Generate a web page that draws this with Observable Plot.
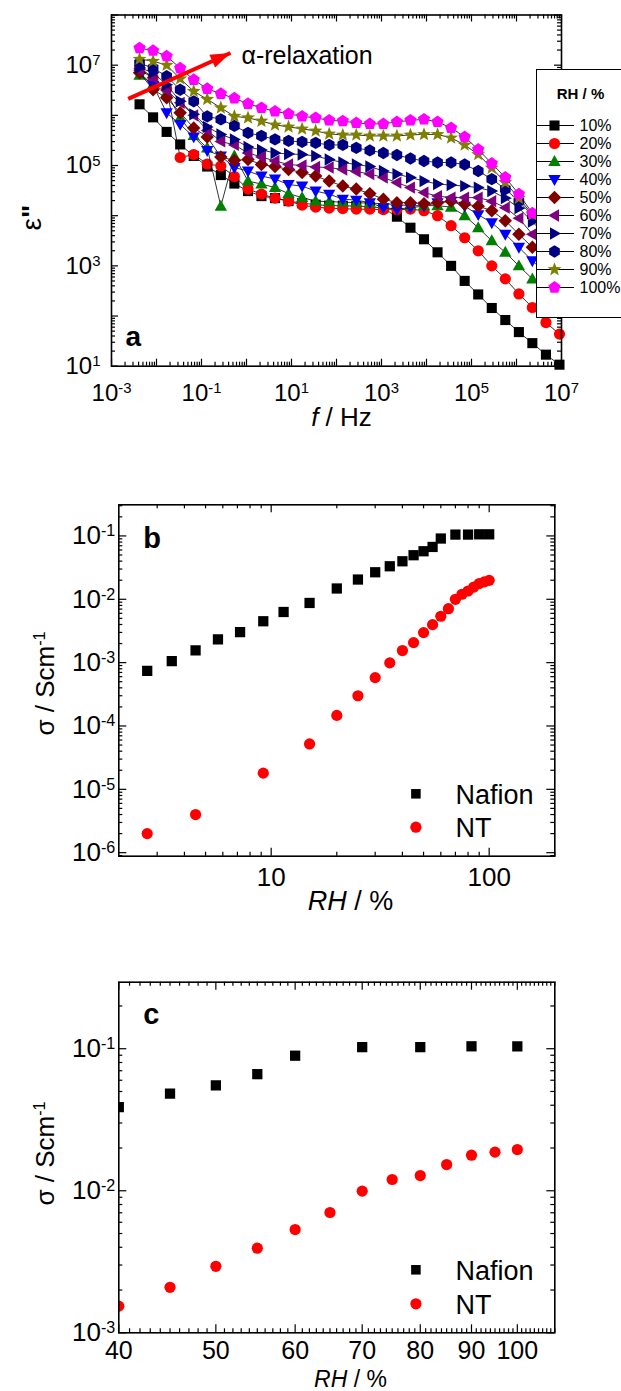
<!DOCTYPE html>
<html><head><meta charset="utf-8">
<script src="https://cdn.jsdelivr.net/npm/d3@7"></script>
<script src="https://cdn.jsdelivr.net/npm/@observablehq/plot@0.6"></script>
<style>
html,body{margin:0;padding:0;background:#fff;}
body{width:621px;height:1391px;overflow:hidden;position:relative;font-family:"Liberation Sans",Arial,sans-serif;}
.panel{position:absolute;left:0;}
svg{max-width:none !important;}
#leg{position:absolute;left:536px;top:69px;width:110px;height:247px;border:1.5px solid #000;background:#fff;overflow:hidden;}
</style></head><body>
<div id="a" class="panel" style="top:0px"></div>
<div id="leg"></div>
<div id="b" class="panel" style="top:470px"></div>
<div id="c" class="panel" style="top:950px"></div>
<script>
// ---------------- DATA ----------------
// Panel a: frequency grid (Hz) and log10(eps'') for each RH
const freqHz = [0.0042,0.0084,0.0168,0.0336,0.0672,0.134,0.269,0.538,1.08,2.15,4.3,8.6,17.2,34.4,68.8,138,275,550,1100,2200,4400,8800,17600,35200,70500,141000,282000,564000,1130000,2250000,4510000,9020000];
const rhLabels = ["10%","20%","30%","40%","50%","60%","70%","80%","90%","100%"];
const logEpsRH10  = [6.22,5.96,5.67,5.42,5.19,4.98,4.81,4.64,4.49,4.39,4.35,4.29,4.25,4.22,4.2,4.2,4.19,4.18,4.15,3.98,3.76,3.53,3.27,3.0,2.7,2.43,2.16,1.92,1.68,1.46,1.23,1.03];
const logEpsRH20  = [6.95,6.75,6.53,5.16,5.22,5.03,4.99,4.78,4.53,4.43,4.35,4.29,4.21,4.17,4.15,4.14,4.13,4.13,4.12,4.12,4.13,4.1,4.0,3.8,3.56,3.3,3.0,2.74,2.44,2.17,1.87,1.64];
const logEpsRH30  = [6.8,6.62,6.45,5.95,5.6,5.35,4.19,5.19,4.69,4.63,4.56,4.44,4.36,4.29,4.28,4.27,4.26,4.25,4.24,4.22,4.2,4.2,4.2,4.17,4.0,3.76,3.5,3.27,3.0,2.74,2.45,2.2];
const logEpsRH40  = [6.85,6.6,6.05,5.82,5.57,5.3,5.19,4.96,4.89,4.79,4.73,4.62,4.59,4.49,4.43,4.33,4.31,4.26,4.16,4.13,4.16,4.19,4.26,4.29,4.19,4.02,3.86,3.63,3.37,3.1,2.85,2.6];
const logEpsRH50  = [6.85,6.51,6.35,6.05,5.75,5.57,5.17,5.1,5.12,5.02,4.98,4.92,4.86,4.79,4.69,4.59,4.53,4.44,4.33,4.26,4.26,4.24,4.26,4.29,4.23,4.19,4.1,3.9,3.63,3.37,3.1,2.85];
const logEpsRH60  = [6.9,6.75,6.5,6.25,6.0,5.7,5.48,5.41,5.25,5.17,5.09,5.02,5.0,4.97,4.96,4.92,4.88,4.83,4.76,4.66,4.56,4.46,4.39,4.36,4.36,4.36,4.29,4.16,3.95,3.63,3.35,3.05];
const logEpsRH70  = [6.95,6.85,6.61,6.28,6.02,5.77,5.62,5.52,5.37,5.31,5.25,5.23,5.22,5.19,5.12,5.06,5.02,4.98,4.89,4.83,4.76,4.69,4.63,4.61,4.59,4.56,4.49,4.35,4.15,3.88,3.6,3.3];
const logEpsRH80  = [7.04,6.94,6.78,6.51,6.28,5.98,5.92,5.79,5.65,5.59,5.52,5.49,5.47,5.45,5.41,5.41,5.35,5.3,5.25,5.21,5.14,5.09,5.06,5.06,5.02,4.89,4.73,4.53,4.29,4.0,3.72,3.45];
const logEpsRH90  = [7.12,7.08,7.0,6.73,6.48,6.32,6.15,5.98,5.95,5.885,5.81,5.77,5.73,5.69,5.63,5.61,5.61,5.59,5.59,5.59,5.61,5.62,5.62,5.55,5.41,5.22,4.95,4.66,4.35,4.02,3.72,3.42];
const logEpsRH100 = [7.34,7.29,7.18,6.94,6.71,6.53,6.43,6.34,6.23,6.15,6.08,6.03,5.98,5.95,5.9,5.885,5.85,5.83,5.83,5.87,5.9,5.92,5.87,5.75,5.57,5.32,5.04,4.76,4.43,4.05,3.72,3.4];
const seriesColors = ["#000000","#ff0000","#008000","#0000ff","#800000","#800080","#000080","#000080","#808000","#ff00ff"];
// annotation arrow (data coords)
const arrowFrom = [0.00235, 2.13e6];
const arrowTo = [0.441, 1.75e7];
const annotationText = "\u03b1-relaxation";

// Panel b
const nafionRH_b = [2.7,3.5,4.5,5.7,7.2,9.2,11.4,15,20,25,30,35,40,45,50,55,60,70,80,90,100];
const nafionS_b  = [7.4e-4,1.06e-3,1.56e-3,2.33e-3,3.04e-3,4.5e-3,6.3e-3,8.75e-3,1.48e-2,2.05e-2,2.67e-2,3.32e-2,3.98e-2,4.96e-2,5.73e-2,6.7e-2,9.1e-2,0.105,0.105,0.106,0.106];
const ntRH_b = [2.7,4.5,9.2,15,20,25,30,35,40,45,50,55,60,65,70,75,80,85,90,95,100];
const ntS_b  = [2.0e-6,4.0e-6,1.8e-5,5.2e-5,1.47e-4,3.0e-4,5.8e-4,9.9e-4,1.55e-3,2.07e-3,2.98e-3,3.98e-3,5.4e-3,7.1e-3,1.0e-2,1.2e-2,1.35e-2,1.56e-2,1.77e-2,1.88e-2,1.99e-2];
// Panel c
const nafionRH_c = [40,45,50,55,60,70,80,90,100];
const nafionS_c  = [0.0388,0.0482,0.0552,0.0662,0.0893,0.1026,0.1026,0.104,0.104];
const ntRH_c = [40,45,50,55,60,65,70,75,80,85,90,95,100];
const ntS_c  = [1.54e-3,2.09e-3,2.94e-3,3.94e-3,5.33e-3,7.03e-3,9.94e-3,1.2e-2,1.28e-2,1.53e-2,1.78e-2,1.87e-2,1.95e-2];
const legendNames = ["Nafion","NT"];

// tick label values
const aXLabels = [1e-3,1e-1,1e1,1e3,1e5,1e7];
const aYLabels = [1e1,1e3,1e5,1e7];
const bXLabels = [10,100];
const bYLabels = [1e-6,1e-5,1e-4,1e-3,1e-2,1e-1];
const cXLabels = [40,50,60,70,80,90,100];
const cYLabels = [1e-3,1e-2,1e-1];

// ---------------- SYMBOLS ----------------
function poly(pts){return {draw(ctx,size){const r=Math.sqrt(size/Math.PI);ctx.moveTo(pts[0][0]*r,pts[0][1]*r);for(let i=1;i<pts.length;i++)ctx.lineTo(pts[i][0]*r,pts[i][1]*r);ctx.closePath();}};}
function ring(n,rad,start,alt){const p=[];for(let k=0;k<n;k++){const a=(start+k*360/n)*Math.PI/180;const rr=alt&&k%2?alt:rad;p.push([rr*Math.cos(a),rr*Math.sin(a)]);}return p;}
const symSquare=poly([[-0.9,-0.9],[0.9,-0.9],[0.9,0.9],[-0.9,0.9]]);
const symCircle={draw(ctx,size){const r=Math.sqrt(size/Math.PI);ctx.moveTo(r,0);ctx.arc(0,0,r,0,2*Math.PI);ctx.closePath();}};
const symTriUp=poly([[0,-1.15],[1.1,0.8],[-1.1,0.8]]);
const symTriDown=poly([[0,1.15],[1.1,-0.8],[-1.1,-0.8]]);
const symDiamond=poly([[0,-1.2],[1.2,0],[0,1.2],[-1.2,0]]);
const symTriLeft=poly([[-1.15,0],[0.8,-1.1],[0.8,1.1]]);
const symTriRight=poly([[1.15,0],[-0.8,-1.1],[-0.8,1.1]]);
const symHex=poly(ring(6,1.1,-90));
const symStar=poly(ring(10,1.3,-90,0.55));
const symPent=poly(ring(5,1.15,-90));
const symArrowHead={draw(ctx){ctx.moveTo(0,0);ctx.lineTo(-15.4,14.6);ctx.lineTo(-21.1,1.8);ctx.closePath();}};
const seriesSymbols=[symSquare,symCircle,symTriUp,symTriDown,symDiamond,symTriLeft,symTriRight,symHex,symStar,symPent];
const seriesLogs=[logEpsRH10,logEpsRH20,logEpsRH30,logEpsRH40,logEpsRH50,logEpsRH60,logEpsRH70,logEpsRH80,logEpsRH90,logEpsRH100];

// ---------------- HELPERS ----------------
const FONT='"Liberation Sans", Arial, Helvetica, sans-serif';
function decadeMinors(lo,hi){const out=[];for(let e=lo;e<=hi;e++)for(let m=2;m<=9;m++)out.push(m*Math.pow(10,e));return out;}
function frameTicks(xMaj,xMin,yMaj,yMin,W,H,L1,L2){
  const o={stroke:"#000",strokeWidth:1.2};
  return [
    Plot.tickX(xMaj,{x:d=>d,insetTop:H-L1,...o}),Plot.tickX(xMaj,{x:d=>d,insetBottom:H-L1,...o}),
    Plot.tickX(xMin,{x:d=>d,insetTop:H-L2,...o}),Plot.tickX(xMin,{x:d=>d,insetBottom:H-L2,...o}),
    Plot.tickY(yMaj,{y:d=>d,insetRight:W-L1,...o}),Plot.tickY(yMaj,{y:d=>d,insetLeft:W-L1,...o}),
    Plot.tickY(yMin,{y:d=>d,insetRight:W-L2,...o}),Plot.tickY(yMin,{y:d=>d,insetLeft:W-L2,...o})
  ];
}
const pow10=d=>"10^"+Math.round(Math.log10(d));
function fixText(svg){
  const esc=x=>x.replace(/&/g,"&amp;").replace(/</g,"&lt;");
  svg.querySelectorAll("text").forEach(t=>{
    const s=t.textContent;let html=null;
    if(s==="RH / %")html='<tspan font-style="italic">RH</tspan> / %';
    else if(s==="f / Hz")html='<tspan font-style="italic">f</tspan> / Hz';
    else if(s==='\u03b5"')html='\u03b5<tspan font-weight="bold">"</tspan>';
    else if(s.includes("^")){const i=s.indexOf("^");html=esc(s.slice(0,i))+'<tspan dy="-0.5em" font-size="0.62em">'+esc(s.slice(i+1))+'</tspan>';}
    if(html!==null)t.innerHTML=html;
  });
}
function inRange(v,d){return v.filter(x=>x>=d[0]*0.999&&x<=d[1]*1.001);}

// ---------------- PANEL A ----------------
{
  const W=621,Ht=440,mL=111,mR=60,mT=14.5,mB=Ht-365.7;
  const xd=[1e-3,1e7],yd=[10,1e8];
  const fw=W-mL-mR,fh=Ht-mT-mB;
  const xMaj=[1e-3,1e-2,1e-1,1,1e1,1e2,1e3,1e4,1e5,1e6,1e7];
  const yMaj=[1e1,1e2,1e3,1e4,1e5,1e6,1e7,1e8];
  const marks=[...frameTicks(xMaj,inRange(decadeMinors(-3,6),xd),yMaj,inRange(decadeMinors(1,7),yd),fw,fh,7,4)];
  seriesLogs.forEach((vals,k)=>{
    const data=freqHz.map((f,i)=>({f,e:Math.pow(10,vals[i])}));
    marks.push(Plot.line(data,{x:"f",y:"e",stroke:"#000",strokeWidth:0.8}));
    marks.push(Plot.dot(data,{x:"f",y:"e",symbol:seriesSymbols[k],fill:seriesColors[k],r:5.6}));
  });
  const arrow=[{x1:arrowFrom[0],y1:arrowFrom[1],x2:arrowTo[0],y2:arrowTo[1]}];
  marks.push(Plot.link(arrow,{x1:"x1",y1:"y1",x2:"x2",y2:"y2",stroke:"#ff0000",strokeWidth:4}));
  marks.push(Plot.dot(arrow,{x:"x2",y:"y2",symbol:symArrowHead,fill:"#ff0000",r:5}));
  marks.push(Plot.text([annotationText],{frameAnchor:"top-left",dx:130,dy:48.8,lineAnchor:"bottom",textAnchor:"start",fontSize:25}));
  marks.push(Plot.text(aXLabels,{x:d=>d,text:pow10,frameAnchor:"bottom",dy:34.3,lineAnchor:"bottom",textAnchor:"middle",fontSize:24}));
  marks.push(Plot.text(aYLabels,{y:d=>d,text:pow10,frameAnchor:"left",dx:-11,lineAnchor:"middle",textAnchor:"end",fontSize:24}));
  marks.push(Plot.text(["f / Hz"],{frameAnchor:"bottom",dx:5,dy:59.3,lineAnchor:"bottom",textAnchor:"middle",fontSize:26}));
  marks.push(Plot.text(['\u03b5"'],{frameAnchor:"left",dx:40-mL,dy:27,rotate:-90,lineAnchor:"bottom",textAnchor:"middle",fontSize:28}));
  marks.push(Plot.text(["a"],{frameAnchor:"bottom-left",dx:14,dy:-20,lineAnchor:"bottom",textAnchor:"start",fontSize:28,fontWeight:"bold"}));
  marks.push(Plot.frame({stroke:"#000",strokeWidth:1.6}));
  const p=Plot.plot({width:W,height:Ht,marginLeft:mL,marginRight:mR,marginTop:mT,marginBottom:mB,
    x:{type:"log",domain:xd,axis:null},y:{type:"log",domain:yd,axis:null},
    style:{fontFamily:FONT,fontSize:"23px",background:"transparent",color:"#000"},marks});
  fixText(p);document.getElementById("a").appendChild(p);
}
// legend of panel a
{
  const items=rhLabels.map((l,k)=>({l,k}));
  const marks=[Plot.ruleY(rhLabels,{y:d=>d,x1:0,x2:37,stroke:"#000",strokeWidth:1})];
  items.forEach(it=>marks.push(Plot.dot([it],{y:"l",frameAnchor:"left",dx:17,symbol:seriesSymbols[it.k],fill:seriesColors[it.k],r:5.6})));
  marks.push(Plot.text(rhLabels,{y:d=>d,text:d=>d,frameAnchor:"left",dx:42,textAnchor:"start",lineAnchor:"middle",fontSize:16}));
  marks.push(Plot.text(["RH / %"],{frameAnchor:"top-left",dx:43,dy:24,textAnchor:"middle",lineAnchor:"middle",fontSize:15,fontWeight:"bold"}));
  const p=Plot.plot({width:110,height:247,margin:0,x:{type:"identity",axis:null},y:{type:"point",domain:rhLabels,range:[43.5,229],axis:null},
    style:{fontFamily:FONT,background:"transparent",color:"#000",maxWidth:"none"},marks});
  p.style.maxWidth="none";
  document.getElementById("leg").appendChild(p);
}
// ---------------- PANELS B & C ----------------
function sigmaPanel(el,cfg){
  const W=621,mL=118.3,mR=66.7;
  const fw=W-mL-mR,fh=cfg.H-cfg.mT-cfg.mB;
  const marks=[...frameTicks(cfg.xMaj,cfg.xMin,cfg.yMaj,cfg.yMin,fw,fh,8,4)];
  const naf=cfg.nafRH.map((rh,i)=>({rh,s:cfg.nafS[i]}));
  const nt=cfg.ntRH.map((rh,i)=>({rh,s:cfg.ntS[i]}));
  marks.push(Plot.dot(naf,{x:"rh",y:"s",symbol:symSquare,fill:"#000",r:5.7,clip:true}));
  marks.push(Plot.dot(nt,{x:"rh",y:"s",symbol:symCircle,fill:"#ff0000",r:5.6,clip:true}));
  // legend
  marks.push(Plot.dot([legendNames[0]],{frameAnchor:"bottom-right",dx:415.4-554.3,dy:cfg.legY[0],symbol:symSquare,fill:"#000",r:5.3}));
  marks.push(Plot.dot([legendNames[1]],{frameAnchor:"bottom-right",dx:415.4-554.3,dy:cfg.legY[1],symbol:symCircle,fill:"#ff0000",r:5.6}));
  marks.push(Plot.text([legendNames[0]],{text:d=>d,frameAnchor:"bottom-right",dx:455-554.3,dy:cfg.legY[0]+10,textAnchor:"start",lineAnchor:"bottom",fontSize:27}));
  marks.push(Plot.text([legendNames[1]],{text:d=>d,frameAnchor:"bottom-right",dx:455-554.3,dy:cfg.legY[1]+10,textAnchor:"start",lineAnchor:"bottom",fontSize:27}));
  marks.push(Plot.text(cfg.xLabels,{x:d=>d,text:cfg.xFmt,frameAnchor:"bottom",dy:cfg.xLabDy,lineAnchor:"bottom",textAnchor:"middle",fontSize:cfg.xLabFs}));
  marks.push(Plot.text(cfg.yLabels,{y:d=>d,text:pow10,frameAnchor:"left",dx:-3.5,lineAnchor:"middle",textAnchor:"end",fontSize:26}));
  marks.push(Plot.text(["RH / %"],{frameAnchor:"bottom",dx:13.7,dy:cfg.xTitleDy,lineAnchor:"bottom",textAnchor:"middle",fontSize:cfg.xTitleFs}));
  marks.push(Plot.text(["\u03c3 / Scm^-1"],{frameAnchor:"left",dx:53-mL,dy:cfg.yTitleDy,rotate:-90,lineAnchor:"bottom",textAnchor:"middle",fontSize:26}));
  marks.push(Plot.text([cfg.letter],{frameAnchor:"top-left",dx:24.4,dy:cfg.letterDy,lineAnchor:"bottom",textAnchor:"start",fontSize:29,fontWeight:"bold"}));
  marks.push(Plot.frame({stroke:"#000",strokeWidth:1.6}));
  const p=Plot.plot({width:W,height:cfg.H,marginLeft:mL,marginRight:mR,marginTop:cfg.mT,marginBottom:cfg.mB,
    x:{type:"log",domain:cfg.xd,axis:null},y:{type:"log",domain:cfg.yd,axis:null},
    style:{fontFamily:FONT,fontSize:"26px",background:"transparent",color:"#000"},marks});
  fixText(p);document.getElementById(el).appendChild(p);
}
{
  const xd=[2,200],yd=[8.8e-7,0.31];
  sigmaPanel("b",{H:450,mT:34.3,mB:450-385.7,xd,yd,
    xMaj:[10,100],xMin:inRange([3,4,5,6,7,8,9,20,30,40,50,60,70,80,90,200],xd),
    yMaj:[1e-6,1e-5,1e-4,1e-3,1e-2,1e-1],yMin:inRange(decadeMinors(-7,-1),yd),
    nafRH:nafionRH_b,nafS:nafionS_b,ntRH:ntRH_b,ntS:ntS_b,
    legY:[793.3-855.7,826.7-855.7],xLabels:bXLabels,xFmt:d=>String(d),xLabDy:30,xLabFs:26,
    yLabels:bYLabels,xTitleDy:909-855.7,xTitleFs:27,yTitleDy:3,letter:"b",letterDy:43});
}
{
  const xd=[40,109],yd=[1e-3,0.294];
  const xMin=[];for(let v=41;v<=109;v++)if(v%10)xMin.push(v);
  sigmaPanel("c",{H:441,mT:31.7,mB:441-382.3,xd,yd,
    xMaj:[40,50,60,70,80,90,100],xMin,
    yMaj:[1e-3,1e-2,1e-1],yMin:inRange(decadeMinors(-3,-1),yd),
    nafRH:nafionRH_c,nafS:nafionS_c,ntRH:ntRH_c,ntS:ntS_c,
    legY:[1269.3-1332.3,1303.3-1332.3],xLabels:cXLabels,xFmt:d=>String(d),xLabDy:26.5,xLabFs:25,
    yLabels:cYLabels,xTitleDy:1386-1332.3,xTitleFs:23,yTitleDy:-4,letter:"c",letterDy:41.6});
}
</script></body></html>
